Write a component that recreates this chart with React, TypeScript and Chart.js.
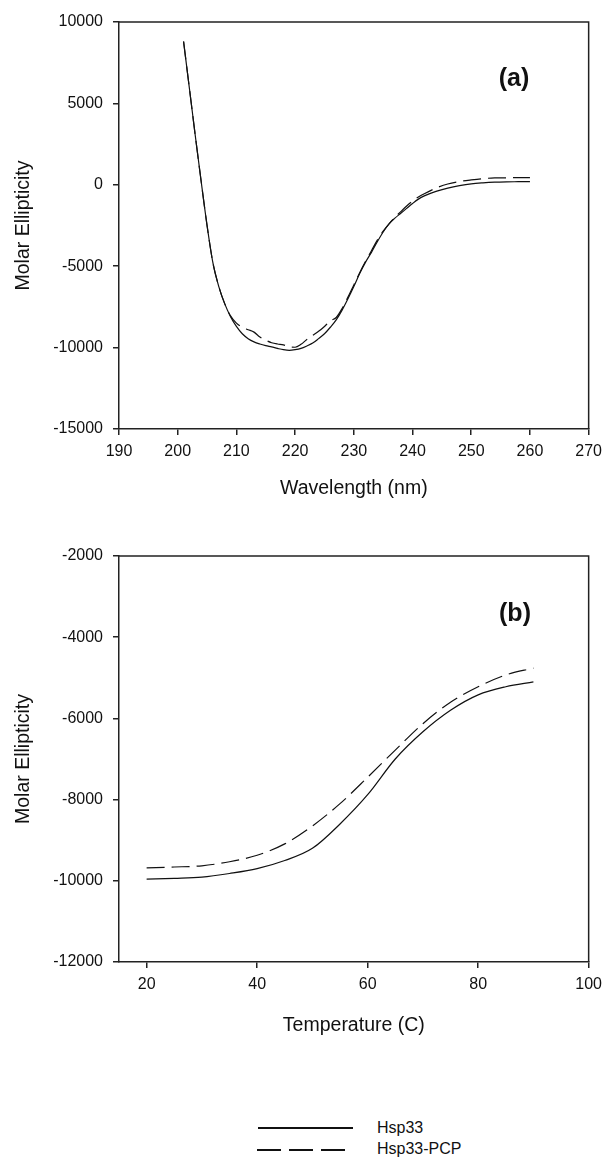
import React, { useEffect, useRef } from "react";
import { Chart, registerables } from "chart.js";

Chart.register(...registerables);

// ---------- data ----------
const seriesNames = ["Hsp33", "Hsp33-PCP"];

const wavelengths = [
  201, 202, 203, 204, 205, 206, 207, 208, 209, 210, 211, 212, 213, 214, 215, 216, 217, 218, 219, 220,
  221, 222, 223, 224, 225, 226, 227, 228, 229, 230, 231, 232, 233, 234, 235, 236, 237, 238, 239, 240,
  241, 242, 244, 246, 248, 250, 252, 254, 256, 258, 260,
];
const hsp33CD = [
  8800, 5900, 3000, 200, -2500, -4800, -6250, -7300, -8100, -8700, -9150, -9450, -9650, -9780, -9880, -9960, -10050, -10130, -10170, -10130,
  -10050, -9900, -9720, -9450, -9150, -8750, -8300, -7700, -7000, -6250, -5450, -4750, -4150, -3500, -2900, -2400, -2050, -1750, -1450, -1150,
  -880, -680, -400, -200, -50, 60, 120, 160, 180, 190, 200,
];
const hsp33PcpCD = [
  8800, 5900, 3000, 200, -2500, -4800, -6250, -7300, -8050, -8500, -8750, -8900, -9050, -9350, -9550, -9700, -9780, -9830, -9950, -9980,
  -9800, -9500, -9250, -9000, -8700, -8350, -8150, -7600, -6900, -6150, -5400, -4700, -4050, -3400, -2850, -2400, -2000, -1650, -1300, -1000,
  -750, -550, -200, 50, 200, 300, 380, 420, 430, 440, 440,
];

const temperatures = [20, 25, 30, 35, 40, 45, 50, 55, 60, 65, 70, 75, 80, 85, 90];
const hsp33Melt = [-9960, -9940, -9910, -9820, -9700, -9500, -9200, -8600, -7880, -7000, -6330, -5800, -5420, -5220, -5100];
const hsp33PcpMelt = [-9680, -9660, -9630, -9530, -9370, -9090, -8650, -8100, -7450, -6780, -6130, -5600, -5220, -4930, -4760];

const wavelengthTicks = [190, 200, 210, 220, 230, 240, 250, 260, 270];
const cdTicks = [-15000, -10000, -5000, 0, 5000, 10000];
const temperatureTicks = [20, 40, 60, 80, 100];
const meltTicks = [-12000, -10000, -8000, -6000, -4000, -2000];

// ---------- styling ----------
const FONT = "'Liberation Sans', Arial, sans-serif";
const INK = "#111";
const AXIS = "#222";
const DASH = [18, 7];

const framePlugin = {
  id: "frame",
  afterDraw(chart: any) {
    const { ctx, chartArea: a } = chart;
    ctx.save();
    ctx.strokeStyle = AXIS;
    ctx.lineWidth = 1.5;
    ctx.beginPath();
    ctx.moveTo(a.left, a.top);
    ctx.lineTo(a.right, a.top);
    ctx.lineTo(a.right, a.bottom);
    ctx.stroke();
    ctx.restore();
  },
};

type PanelCfg = {
  height: number;
  padTop: number;
  plotBottom: number;
  xs: number[];
  s1: number[];
  s2: number[];
  xMin: number;
  xMax: number;
  xTicks: number[];
  yMin: number;
  yMax: number;
  yTicks: number[];
  xTitle: string;
  xTitlePad: number;
};

function buildConfig(p: PanelCfg): any {
  const tickFont = { family: FONT, size: 16 };
  const titleFont = { family: FONT, size: 19.5 };
  return {
    type: "line",
    data: {
      datasets: [
        {
          label: seriesNames[0],
          data: p.xs.map((x, i) => ({ x, y: p.s1[i] })),
          borderColor: INK,
          borderWidth: 1.2,
          pointRadius: 0,
          cubicInterpolationMode: "monotone",
          fill: false,
        },
        {
          label: seriesNames[1],
          data: p.xs.map((x, i) => ({ x, y: p.s2[i] })),
          borderColor: INK,
          borderWidth: 1.2,
          borderDash: DASH,
          pointRadius: 0,
          cubicInterpolationMode: "monotone",
          fill: false,
        },
      ],
    },
    options: {
      animation: false,
      responsive: false,
      devicePixelRatio: 1,
      layout: { padding: { left: 0, top: p.padTop, right: 18, bottom: 0 } },
      plugins: { legend: { display: false }, tooltip: { enabled: false } },
      scales: {
        x: {
          type: "linear",
          min: p.xMin,
          max: p.xMax,
          afterBuildTicks: (s: any) => {
            s.ticks = p.xTicks.map((v) => ({ value: v }));
          },
          afterFit: (s: any) => {
            s.height = p.height - p.plotBottom;
          },
          ticks: {
            font: tickFont,
            color: INK,
            padding: 7,
            maxRotation: 0,
            autoSkip: false,
            callback: (v: any) => String(v),
          },
          grid: { drawOnChartArea: false, drawTicks: true, tickLength: 6, color: AXIS, lineWidth: 1.5 },
          border: { display: true, color: AXIS, width: 1.5 },
          title: {
            display: true,
            text: p.xTitle,
            font: titleFont,
            color: INK,
            padding: { top: 0, bottom: p.xTitlePad },
          },
        },
        y: {
          type: "linear",
          min: p.yMin,
          max: p.yMax,
          afterBuildTicks: (s: any) => {
            s.ticks = p.yTicks.map((v) => ({ value: v }));
          },
          afterFit: (s: any) => {
            s.width = 119;
          },
          ticks: {
            font: tickFont,
            color: INK,
            padding: 10,
            autoSkip: false,
            callback: (v: any) => String(v),
          },
          grid: { drawOnChartArea: false, drawTicks: true, tickLength: 6, color: AXIS, lineWidth: 1.5 },
          border: { display: true, color: AXIS, width: 1.5 },
          title: {
            display: true,
            text: "Molar Ellipticity",
            font: titleFont,
            color: INK,
            padding: { top: 12, bottom: 0 },
          },
        },
      },
    },
    plugins: [framePlugin],
  };
}

function Panel({ top, cfg }: { top: number; cfg: PanelCfg }) {
  const ref = useRef<HTMLCanvasElement | null>(null);
  useEffect(() => {
    if (!ref.current) return;
    const chart = new Chart(ref.current, buildConfig(cfg));
    return () => chart.destroy();
  }, []);
  return (
    <canvas
      ref={ref}
      width={609}
      height={cfg.height}
      style={{ position: "absolute", left: 0, top, width: 609, height: cfg.height }}
    />
  );
}

const panelA: PanelCfg = {
  height: 520,
  padTop: 22,
  plotBottom: 429,
  xs: wavelengths,
  s1: hsp33CD,
  s2: hsp33PcpCD,
  xMin: 190,
  xMax: 270,
  xTicks: wavelengthTicks,
  yMin: -15000,
  yMax: 10000,
  yTicks: cdTicks,
  xTitle: "Wavelength (nm)",
  xTitlePad: 20,
};

const panelB: PanelCfg = {
  height: 540,
  padTop: 36,
  plotBottom: 442,
  xs: temperatures,
  s1: hsp33Melt,
  s2: hsp33PcpMelt,
  xMin: 15,
  xMax: 100,
  xTicks: temperatureTicks,
  yMin: -12000,
  yMax: -2000,
  yTicks: meltTicks,
  xTitle: "Temperature (C)",
  xTitlePad: 23,
};

const textBase: React.CSSProperties = {
  position: "absolute",
  fontFamily: FONT,
  color: INK,
  whiteSpace: "nowrap",
};

export default function App() {
  return (
    <div style={{ position: "fixed", left: 0, top: 0, width: 609, height: 1157, background: "#fff", overflow: "hidden" }}>
      <Panel top={0} cfg={panelA} />
      <Panel top={520} cfg={panelB} />
      <div style={{ ...textBase, left: 474, top: 62, width: 80, textAlign: "center", fontSize: 25, fontWeight: "bold", lineHeight: "30px" }}>
        (a)
      </div>
      <div style={{ ...textBase, left: 475, top: 597, width: 80, textAlign: "center", fontSize: 25, fontWeight: "bold", lineHeight: "30px" }}>
        (b)
      </div>
      {/* legend */}
      <div style={{ position: "absolute", left: 258, top: 1127, width: 95, height: 0, borderTop: `2px solid ${INK}` }} />
      <div
        style={{
          position: "absolute",
          left: 257,
          top: 1149,
          width: 88,
          height: 2,
          background: `repeating-linear-gradient(to right, ${INK} 0px, ${INK} 24px, transparent 24px, transparent 32px)`,
        }}
      />
      <div style={{ ...textBase, left: 377, top: 1119, fontSize: 16, lineHeight: "18px" }}>{seriesNames[0]}</div>
      <div style={{ ...textBase, left: 377, top: 1140, fontSize: 16, lineHeight: "18px" }}>{seriesNames[1]}</div>
    </div>
  );
}
